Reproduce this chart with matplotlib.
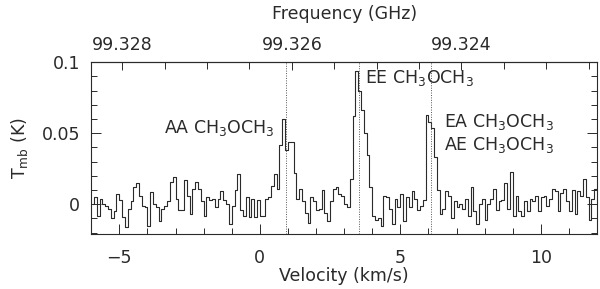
import numpy as np
import matplotlib
matplotlib.use('Agg')
import matplotlib.pyplot as plt
from matplotlib.ticker import MultipleLocator

# spectrum: channel width 0.1 km/s starting at -6 km/s
v_start = -6.0
dv = 0.1
tmb = [
    0.000, 0.005, -0.008, 0.004, 0.000, -0.001, -0.003, -0.010, -0.005, 0.0075,
    0.003, -0.009, -0.016, -0.003, 0.002, 0.012, 0.0146, 0.006, -0.001, -0.002,
    -0.015, 0.0087, 0.000, -0.002, -0.012, -0.003, -0.001, 0.002, 0.016, 0.019,
    0.004, -0.004, -0.004, 0.017, 0.006, -0.0066, 0.011, 0.016, 0.011, 0.002,
    -0.008, 0.005, 0.003, 0.004, -0.002, 0.004, 0.009, 0.003, 0.000, -0.014,
    -0.001, 0.010, 0.021, -0.004, -0.008, 0.005, -0.009, 0.004, -0.009, 0.003,
    -0.008, -0.008, 0.004, 0.005, 0.013, 0.021, 0.011, 0.042, 0.060, 0.038,
    0.044, 0.044, 0.022, 0.004, 0.011, 0.002, -0.006, -0.013, 0.005, 0.002,
    -0.004, -0.003, 0.010, -0.006, -0.012, 0.002, 0.011, 0.012, 0.007, 0.006,
    0.000, -0.002, 0.018, 0.062, 0.094, 0.080, 0.066, 0.050, 0.035, 0.012,
    -0.008, -0.011, -0.010, -0.015, 0.006, 0.005, -0.003, -0.014, 0.004, -0.002,
    0.007, -0.012, 0.005, -0.002, 0.009, 0.004, -0.004, -0.001, 0.003, 0.063,
    0.058, 0.054, 0.033, 0.010, -0.007, -0.003, 0.009, 0.006, -0.010, 0.002,
    -0.002, 0.000, -0.003, 0.004, -0.008, 0.012, -0.005, -0.014, 0.000, 0.004,
    -0.011, 0.000, 0.004, 0.011, -0.004, 0.002, 0.003, 0.015, -0.003, 0.023,
    -0.008, 0.006, -0.005, -0.008, 0.002, -0.005, 0.004, 0.002, 0.006, -0.005,
    0.005, 0.006, -0.001, 0.004, 0.011, 0.009, -0.005, 0.008, 0.011, 0.002,
    -0.005, 0.010, -0.007, 0.009, 0.006, 0.018, 0.005, -0.011, 0.004, 0.011,
]
line_vel = [0.92, 3.54, 6.11]
line_names = ['AA CH$_3$OCH$_3$', 'EE CH$_3$OCH$_3$',
              'EA CH$_3$OCH$_3$', 'AE CH$_3$OCH$_3$']
yticks = [0, 0.05, 0.1]
yticklabels = ['0', '0.05', '0.1']
xticks = [-5, 0, 5, 10]
fticks = [99.328, 99.326, 99.324]
fticklabels = ['99.328', '99.326', '99.324']

# velocity -> frequency (GHz)
f0 = 99.326378
kf = 0.002 / 6.035

vel = v_start + dv * (np.arange(len(tmb)) + 0.5)

col = '#2a2a2a'
plt.rcParams['font.family'] = 'DejaVu Sans'
plt.rcParams['font.size'] = 12.5

fig = plt.figure(figsize=(6.0, 2.89), dpi=100)
ax = fig.add_axes([0.152, 0.19, 0.843, 0.595])

ax.step(vel, tmb, where='mid', color=col, lw=0.8)
for v in line_vel:
    ax.axvline(v, color='#555555', ls=(0, (1, 1.5)), lw=0.7)

ax.set_xlim(-6, 12)
ax.set_ylim(-0.021, 0.1)

ax.set_xticks(xticks)
ax.xaxis.set_minor_locator(MultipleLocator(1))
ax.set_yticks(yticks, labels=yticklabels)
ax.yaxis.set_minor_locator(MultipleLocator(0.01))
ax.tick_params(which='both', direction='in', top=False, right=True,
               color=col, labelcolor=col, width=0.7)
ax.tick_params(which='major', length=7, pad=8)
ax.tick_params(axis='x', which='major', pad=11)
ax.tick_params(which='minor', length=4)
for s in ax.spines.values():
    s.set_color(col)
    s.set_linewidth(0.8)

ax.set_xlabel('Velocity (km/s)', color=col, labelpad=0)
ax.set_ylabel('T$_{\\rm mb}$ (K)', color=col, labelpad=8)

secax = ax.secondary_xaxis('top', functions=(lambda v: f0 - kf * v,
                                             lambda f: (f0 - f) / kf))
secax.set_xticks(fticks, labels=fticklabels)
secax.xaxis.set_minor_locator(MultipleLocator(0.0005))
secax.tick_params(which='both', direction='in', color=col, labelcolor=col,
                  width=0.7)
secax.tick_params(which='major', length=6, pad=6)
secax.tick_params(which='minor', length=5)
secax.spines['top'].set_color(col)
secax.set_xlabel('Frequency (GHz)', color=col, labelpad=12)

ax.text(0.54, 0.054, line_names[0], ha='right', va='center', color=col)
ax.text(3.75, 0.089, line_names[1], ha='left', va='center', color=col)
ax.text(6.54, 0.058, line_names[2], ha='left', va='center', color=col)
ax.text(6.54, 0.0415, line_names[3], ha='left', va='center', color=col)

fig.savefig('out.png', dpi=100)
